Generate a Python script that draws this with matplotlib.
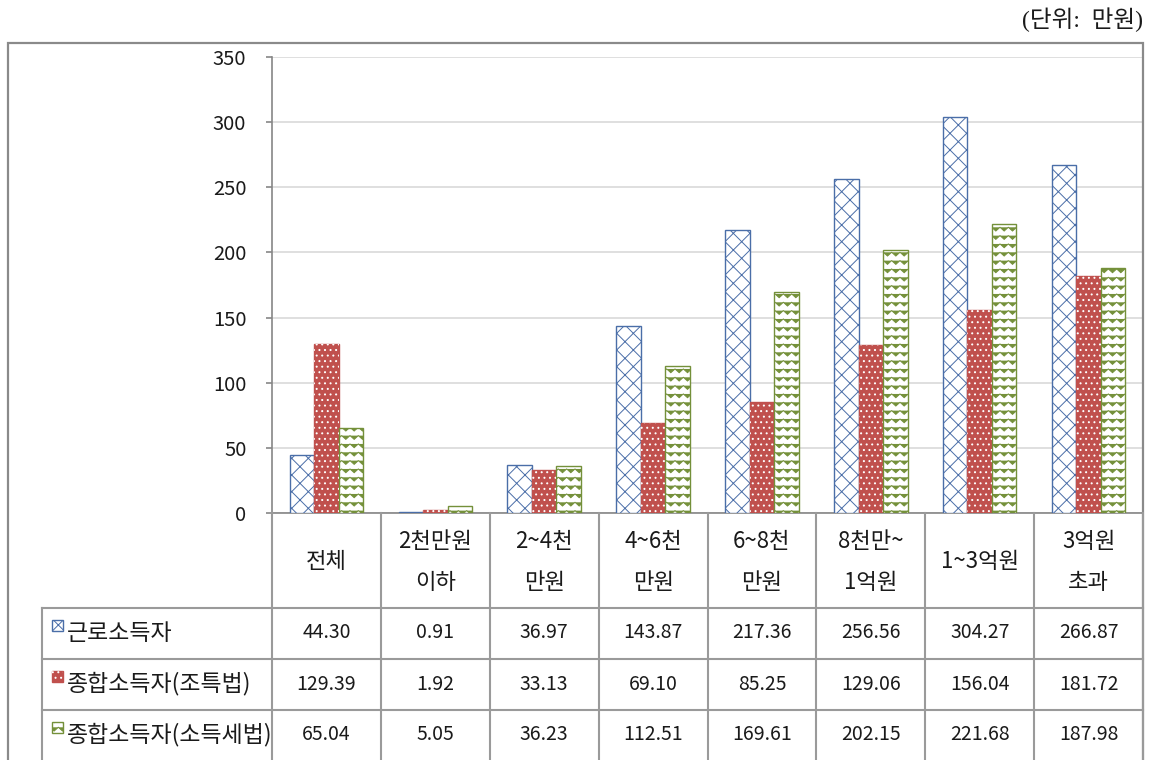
import numpy as np
import matplotlib
matplotlib.use('Agg')
import matplotlib.pyplot as plt
import matplotlib.hatch as mhatch
import matplotlib.transforms as mtransforms
from matplotlib.path import Path
from matplotlib.patches import Rectangle
from matplotlib.lines import Line2D

plt.rcParams['font.family'] = ['Noto Sans CJK KR', 'DejaVu Sans']
plt.rcParams['hatch.linewidth'] = 0.7

categories = ['전체', '2천만원\n이하', '2~4천\n만원', '4~6천\n만원', '6~8천\n만원',
              '8천만~\n1억원', '1~3억원', '3억원\n초과']
series_names = ['근로소득자', '종합소득자(조특법)', '종합소득자(소득세법)']
wage = [44.30, 0.91, 36.97, 143.87, 217.36, 256.56, 304.27, 266.87]
comp_special = [129.39, 1.92, 33.13, 69.10, 85.25, 129.06, 156.04, 181.72]
comp_income = [65.04, 5.05, 36.23, 112.51, 169.61, 202.15, 221.68, 187.98]
yticks = [0, 50, 100, 150, 200, 250, 300, 350]

c_blue = '#4a6ea8'
c_red = '#c0504d'
c_green = '#74903a'
c_line = '#9a9a9a'


class ZigZagHatch(mhatch.HatchPatternBase):
    # zigzag rows, used in place of the plain '-' hatch
    def __init__(self, hatch, density):
        self.num_rows = int(hatch.count('-') * density)
        self.teeth = self.num_rows
        self.num_vertices = self.num_rows * (2 * self.teeth + 1)

    def set_vertices_and_codes(self, vertices, codes):
        n = 2 * self.teeth + 1
        xs = np.linspace(0, 1, n)
        amp = 0.45 / self.num_rows
        offs = np.where(np.arange(n) % 2 == 0, amp / 2, -amp / 2)
        for r in range(self.num_rows):
            y0 = (r + 0.5) / self.num_rows
            vertices[r * n:(r + 1) * n, 0] = xs
            vertices[r * n:(r + 1) * n, 1] = y0 + offs
            codes[r * n] = Path.MOVETO
            codes[r * n + 1:(r + 1) * n] = Path.LINETO


mhatch._hatch_types = [ZigZagHatch if t is mhatch.HorizontalHatch else t
                       for t in mhatch._hatch_types]

W, H = 1150, 760
def fx(px):
    return px / W
def fy(py):
    return 1 - py / H

fig = plt.figure(figsize=(11.5, 7.6), dpi=100)
ax = fig.add_axes([fx(272), fy(513), fx(1143) - fx(272), (513 - 57) / H])

x = np.arange(len(categories))
w = 0.225
ax.bar(x - w, wage, w, color='white', edgecolor=c_blue, hatch='xx', lw=1, zorder=3)
ax.bar(x, comp_special, w, color=c_red, edgecolor=c_red, lw=1, zorder=3)
ax.bar(x, comp_special, w, color='none', edgecolor='white', hatch='...', lw=0, zorder=4)
ax.bar(x + w, comp_income, w, color='white', edgecolor=c_green, hatch='--', lw=1, zorder=3)

ax.set_xlim(-0.5, len(categories) - 0.5)
ax.set_ylim(0, 350)
ax.set_yticks(yticks)
ax.set_xticks([])
ax.yaxis.grid(True, color='#d9d9d9', lw=1.2, zorder=0)
ax.set_axisbelow(True)
for s in ['top', 'right']:
    ax.spines[s].set_visible(False)
for s in ['left', 'bottom']:
    ax.spines[s].set_color('#868686')
    ax.spines[s].set_linewidth(1.2)
ax.tick_params(axis='y', length=4.5, width=1.2, color='#868686', pad=14,
               labelsize=14.5, labelcolor='#1a1a1a')

# data table under the plot
blend = mtransforms.blended_transform_factory(ax.transData, fig.transFigure)
lw_tab = 1.5
n = len(categories)
for k in range(n + 1):
    fig.add_artist(Line2D([k - 0.5, k - 0.5], [fy(513), fy(770)], transform=blend,
                          color=c_line, lw=lw_tab))
for py in [608, 659, 710]:
    fig.add_artist(Line2D([fx(42), fx(1143)], [fy(py), fy(py)], color=c_line, lw=lw_tab))
fig.add_artist(Line2D([fx(42), fx(42)], [fy(608), fy(770)], color=c_line, lw=lw_tab))

for i, lab in enumerate(categories):
    fig.text(i, fy(562), lab, transform=blend, ha='center', va='center',
             fontsize=16, linespacing=2.0, color='#1a1a1a')

row_vals = [wage, comp_special, comp_income]
row_y = [633, 684, 735]
for vals, py in zip(row_vals, row_y):
    for i, v in enumerate(vals):
        fig.text(i, fy(py), f'{v:.2f}', transform=blend, ha='center', va='center',
                 fontsize=14, color='#1a1a1a')

# legend keys and row names
key_top = [620, 671, 722]
for name, py, kt, j in zip(series_names, row_y, key_top, range(3)):
    rect = [fx(52), fy(kt + 11), fx(11), 11 / H]
    if j == 0:
        fig.add_artist(Rectangle(rect[:2], rect[2], rect[3], transform=fig.transFigure,
                                 facecolor='white', edgecolor=c_blue, hatch='xx', lw=1))
    elif j == 1:
        fig.add_artist(Rectangle(rect[:2], rect[2], rect[3], transform=fig.transFigure,
                                 facecolor=c_red, edgecolor=c_red, lw=1))
        fig.add_artist(Rectangle(rect[:2], rect[2], rect[3], transform=fig.transFigure,
                                 facecolor='none', edgecolor='white', hatch='...', lw=0))
    else:
        fig.add_artist(Rectangle(rect[:2], rect[2], rect[3], transform=fig.transFigure,
                                 facecolor='white', edgecolor=c_green, hatch='--', lw=1))
    fig.text(fx(67), fy(py), name, ha='left', va='center', fontsize=16.5, color='#1a1a1a')

# outer frame
fig.add_artist(Rectangle((fx(8), fy(775)), fx(1143) - fx(8), fy(43) - fy(775),
                         transform=fig.transFigure, facecolor='none',
                         edgecolor='#8a8a8a', lw=1.6))

fig.text(fx(1143), fy(20), '(단위:  만원)', ha='right', va='center', fontsize=17,
         family=['Liberation Serif', 'Noto Sans CJK KR'], color='#1a1a1a')

fig.savefig('out.png', dpi=100)
